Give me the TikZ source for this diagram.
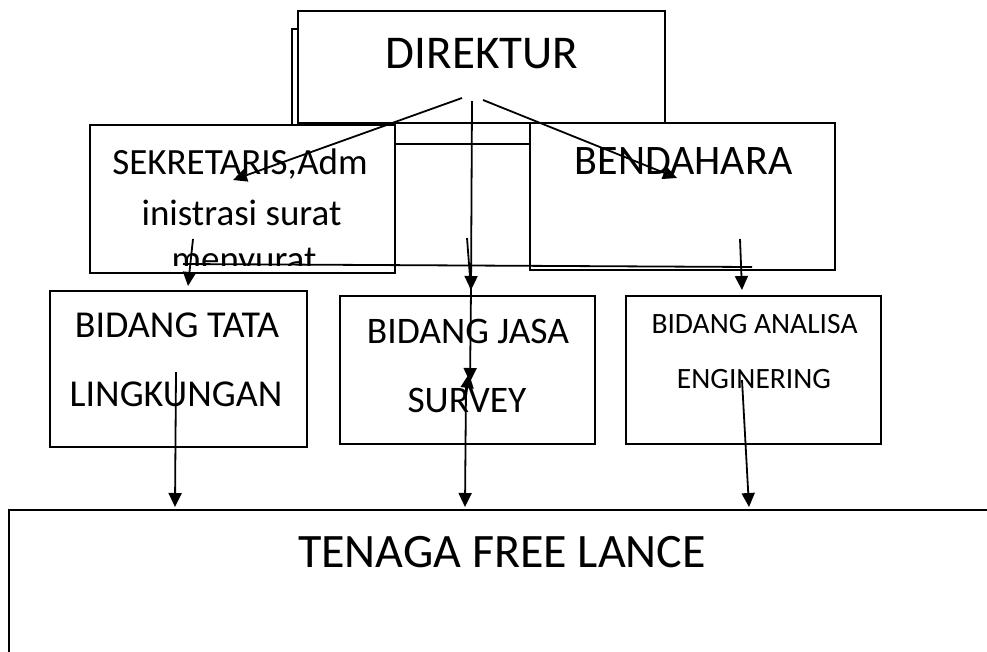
\documentclass[tikz,border=0pt]{standalone}
\usepackage{fontspec}
\setmainfont{Carlito}
\usetikzlibrary{arrows.meta}
\begin{document}
\begin{tikzpicture}[x=1pt,y=-1pt,
  box/.style={draw,line width=1.6pt,fill=white,inner sep=0pt,rectangle},
  conn/.style={line width=1.8pt,-{Triangle[width=13pt,length=14pt]}},
  plain/.style={line width=1.8pt},
  txt/.style={anchor=base,inner sep=0pt}]
\useasboundingbox (0,0) rectangle (987,651);
\clip (0,0) rectangle (987,651);
% boxes
\node[box,minimum width=238pt,minimum height=115pt] (shadow) at (411,86.5) {};
\node[box,minimum width=367pt,minimum height=112pt] (dir) at (481.5,67) {};
\node[box,minimum width=305pt,minimum height=148pt] (sek) at (242.5,199) {};
\node[box,minimum width=305pt,minimum height=147pt] (ben) at (682.5,196.5) {};
\node[box,minimum width=257pt,minimum height=156pt] (tata) at (178.5,369) {};
\node[box,minimum width=255pt,minimum height=148pt] (jasa) at (467.5,370) {};
\node[box,minimum width=255pt,minimum height=148pt] (anal) at (753.5,370) {};
\node[box,minimum width=1001pt,minimum height=190pt] (ten) at (509.5,605) {};
% texts
\node[txt,font=\fontsize{47}{50}\selectfont] (tdir) at (482,68) {DIREKTUR};
\node[txt,font=\fontsize{37}{40}\selectfont] (tsek1) at (240,174) {SEKRETARIS,Adm};
\node[txt,font=\fontsize{37}{40}\selectfont] (tsek2) at (241.5,225) {inistrasi surat};
\begin{scope}
\clip (90,125) rectangle (395,265);
\node[txt,font=\fontsize{37}{40}\selectfont] (tsek3) at (244,271) {menyurat};
\end{scope}
\node[txt,font=\fontsize{42}{44}\selectfont] (tben) at (683.5,174) {BENDAHARA};
\node[txt,font=\fontsize{38}{40}\selectfont] (ttata1) at (177,337) {BIDANG TATA};
\node[txt,font=\fontsize{38}{40}\selectfont] (ttata2) at (176,406) {LINGKUNGAN};
\node[txt,font=\fontsize{37.5}{40}\selectfont] (tjasa1) at (468,343) {BIDANG JASA};
\node[txt,font=\fontsize{37.5}{40}\selectfont] (tjasa2) at (467,412) {SURVEY};
\node[txt,font=\fontsize{29.5}{30}\selectfont] (tan1) at (754.5,333) {BIDANG ANALISA};
\node[txt,font=\fontsize{29.5}{30}\selectfont] (tan2) at (754,388) {ENGINERING};
\node[txt,font=\fontsize{48}{50}\selectfont] (tten) at (502,567) {TENAGA FREE LANCE};
% connector end points
\coordinate (d1) at (462,98);
\coordinate (d2) at (472,101);
\coordinate (d3) at (483,100);
\coordinate (t1) at (233,180);
\coordinate (t2) at (677,178);
\coordinate (m1) at (471,290);
\coordinate (s1) at (193,239);
\coordinate (t3) at (188,286);
\coordinate (b1) at (740,239);
\coordinate (t4) at (742,290);
\coordinate (e1) at (467,238);
\coordinate (m3) at (470,382);
\coordinate (m6) at (465.5,400);
\coordinate (m5) at (469,374);
\coordinate (m4) at (466,387);
\coordinate (k1) at (175,507);
\coordinate (k2) at (465,507);
\coordinate (k3) at (749,507);
\coordinate (L1) at (176,372);
\coordinate (R1) at (742,380);
\coordinate (h1) at (183,264);
\coordinate (h2) at (752,267);
% connectors
\draw[conn] (d1) -- (t1);
\draw[conn] (d2) -- (m1);
\draw[conn] (d3) -- (t2);
\draw[plain] (e1) -- (m1);
\draw[conn] (s1) -- (t3);
\draw[conn] (b1) -- (t4);
\draw[plain] (h1) -- (h2);
\draw[conn] (m1) -- (m3);
\draw[conn] (m6) -- (m5);
\draw[conn] (m4) -- (k2);
\draw[conn] (L1) -- (k1);
\draw[conn] (R1) -- (k3);
\end{tikzpicture}
\end{document}
